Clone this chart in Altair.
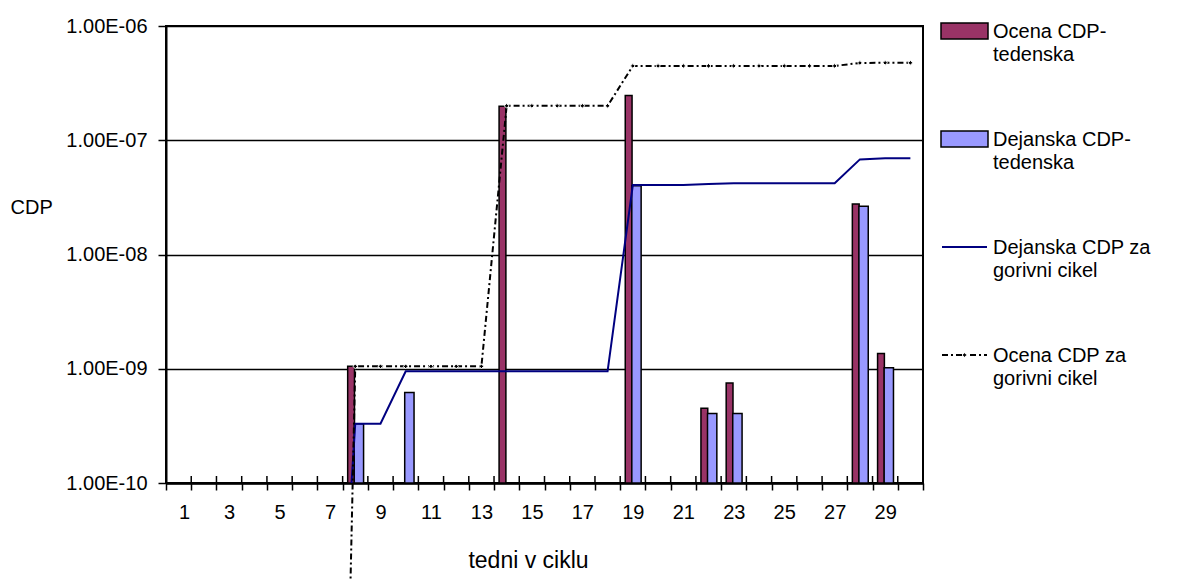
import altair as alt
import pandas as pd

# Weekly CDP estimates per week of the fuel cycle (None = no bar that week)
WEEKS = list(range(1, 31))
OCENA_TEDENSKA = [None, None, None, None, None, None, None, 1.05e-9,
                  None, None, None, None, None, 1.98e-7, None, None, None, None,
                  2.47e-7, None, None, 4.5e-10, 7.5e-10, None, None, None, None,
                  2.77e-8, 1.36e-9, None]
DEJANSKA_TEDENSKA = [None, None, None, None, None, None, None, 3.3e-10,
                     None, 6.2e-10, None, None, None, None, None, None, None, None,
                     4.0e-8, None, None, 4.05e-10, 4.05e-10, None, None, None, None,
                     2.64e-8, 1.02e-9, None]

# Cumulative CDP for the fuel cycle (from week 7 on)
LINE_WEEKS = list(range(7, 31))
DEJANSKA_CIKEL = [1e-13, 3.3e-10, 3.3e-10, 9.5e-10, 9.5e-10, 9.5e-10, 9.5e-10,
                  9.5e-10, 9.5e-10, 9.5e-10, 9.5e-10, 9.5e-10, 4.05e-8, 4.05e-8,
                  4.05e-8, 4.15e-8, 4.2e-8, 4.2e-8, 4.2e-8, 4.2e-8, 4.2e-8,
                  6.8e-8, 6.95e-8, 6.95e-8]
OCENA_CIKEL = [1e-19, 1.05e-9, 1.05e-9, 1.05e-9, 1.05e-9, 1.05e-9, 1.05e-9,
               2.0e-7, 2.0e-7, 2.0e-7, 2.0e-7, 2.0e-7, 4.47e-7, 4.47e-7,
               4.47e-7, 4.47e-7, 4.47e-7, 4.47e-7, 4.47e-7, 4.47e-7, 4.47e-7,
               4.75e-7, 4.76e-7, 4.76e-7]

Y_TICKS = [1e-10, 1e-9, 1e-8, 1e-7, 1e-6]
LEGEND_LABELS = ["Ocena CDP-\ntedenska", "Dejanska CDP-\ntedenska",
                 "Dejanska CDP za\ngorivni cikel", "Ocena CDP za\ngorivni cikel"]

MAROON = "#993366"
LILAC = "#9999FF"
NAVY = "#000080"
FONT = "Liberation Sans"
W, H = 757, 457
FS = 20

BOUNDS = [w - 0.5 for w in WEEKS] + [WEEKS[-1] + 0.5]

xscale = alt.Scale(domain=[BOUNDS[0], BOUNDS[-1]], nice=False, zero=False)
yscale = alt.Scale(type="log", domain=[Y_TICKS[0], Y_TICKS[-1]], nice=False)

xaxis = alt.Axis(
    values=BOUNDS,
    labelExpr="((datum.value + 0.5) % 2 == 1 && datum.value < 29) ? format(datum.value + 0.5, 'd') : ''",
    labelOffset=W / len(WEEKS) / 2, labelFont=FONT, labelFontSize=FS, labelColor="black",
    labelPadding=12, tickSize=7, tickWidth=1.5, tickColor="black",
    domainColor="black", domainWidth=2.5, grid=False,
    title="tedni v ciklu", titleFont=FONT, titleFontSize=23, titleFontWeight="normal",
    titleColor="black", titleX=362, titleY=84, titleBaseline="alphabetic",
)
yaxis = alt.Axis(
    values=Y_TICKS,
    labelExpr="'1.00E-' + (round(-log(datum.value)/LN10) < 10 ? '0' : '') + round(-log(datum.value)/LN10)",
    labelFont=FONT, labelFontSize=FS, labelColor="black", labelPadding=11,
    tickSize=8, tickWidth=1.5, tickColor="black",
    domainColor="black", domainWidth=2,
    grid=True, gridColor="black", gridWidth=1.5,
    title="CDP", titleAngle=0, titleAlign="left", titleBaseline="middle",
    titleX=-156, titleY=181, titleFont=FONT, titleFontSize=FS,
    titleFontWeight="normal", titleColor="black",
)


def X(field):
    return alt.X(field, scale=xscale, axis=xaxis, title="tedni v ciklu")


def Y(field):
    return alt.Y(field, scale=yscale, axis=yaxis, title="CDP")


bars = pd.DataFrame({"week": WEEKS, "ocena": OCENA_TEDENSKA, "dejanska": DEJANSKA_TEDENSKA})
ocena_bars = bars.dropna(subset=["ocena"])[["week", "ocena"]].rename(columns={"ocena": "v"})
dejanska_bars = bars.dropna(subset=["dejanska"])[["week", "dejanska"]].rename(columns={"dejanska": "v"})
lines = pd.DataFrame({"week": LINE_WEEKS, "dej": DEJANSKA_CIKEL, "oc": OCENA_CIKEL})

base_y = Y_TICKS[0]

# Maroon bars sit left of the week centre, lilac bars right of it
maroon = alt.Chart(ocena_bars).transform_calculate(
    x0="datum.week - 0.30", x1="datum.week - 0.03", base=str(base_y)
).mark_rect(fill=MAROON, stroke="black", strokeWidth=1.5).encode(
    x=X("x0:Q"), x2="x1:Q", y=Y("v:Q"), y2="base:Q",
)
lilac = alt.Chart(dejanska_bars).transform_calculate(
    x0="datum.week - 0.04", x1="datum.week + 0.33", base=str(base_y)
).mark_rect(fill=LILAC, stroke="black", strokeWidth=1.5).encode(
    x=X("x0:Q"), x2="x1:Q", y=Y("v:Q"), y2="base:Q",
)

dej_line = alt.Chart(lines).mark_line(color=NAVY, strokeWidth=2, clip=True).encode(
    x=X("week:Q"), y=Y("dej:Q"),
)
oc_line = alt.Chart(lines).mark_line(
    color="black", strokeWidth=2, strokeDash=[6, 3, 2, 3], clip=False
).encode(
    x=X("week:Q"), y=Y("oc:Q"),
)
oc_points = alt.Chart(lines).transform_filter(f"datum.oc >= {base_y}").mark_point(
    shape="diamond", filled=True, fill="black", stroke="white", strokeWidth=1, size=22, opacity=1
).encode(
    x=X("week:Q"), y=Y("oc:Q"),
)

# Inner halves of the category ticks on the x axis
inner_ticks = alt.Chart(pd.DataFrame({"b": BOUNDS})).mark_rule(
    color="black", strokeWidth=1.5
).encode(
    x=X("b:Q"),
    y=alt.value(H),
    y2=alt.value(H - 7),
)

# Legend on the right
one = pd.DataFrame({"k": [0]})
LX0, LX1, LTX = 775, 822, 827
STEP = 108
legend_layers = []
for i, (label, kind) in enumerate(zip(LEGEND_LABELS, ["maroon", "lilac", "navy", "dash"])):
    yc = 5 + i * STEP
    if kind in ("maroon", "lilac"):
        legend_layers.append(
            alt.Chart(one).mark_rect(fill=MAROON if kind == "maroon" else LILAC,
                                     stroke="black", strokeWidth=1.5).encode(
                x=alt.value(LX0), x2=alt.value(LX1),
                y=alt.value(yc - 8), y2=alt.value(yc + 8))
        )
    elif kind == "navy":
        legend_layers.append(
            alt.Chart(one).mark_rule(color=NAVY, strokeWidth=2).encode(
                x=alt.value(LX0 + 1), x2=alt.value(LX1 - 1), y=alt.value(yc))
        )
    else:
        legend_layers.append(
            alt.Chart(one).mark_rule(color="black", strokeWidth=2, strokeDash=[6, 3, 2, 3]).encode(
                x=alt.value(LX0 + 1), x2=alt.value(LX1 - 1), y=alt.value(yc))
        )
        legend_layers.append(
            alt.Chart(one).mark_point(shape="diamond", filled=True, fill="black",
                                      stroke="white", strokeWidth=1, size=22, opacity=1).encode(
                x=alt.value((LX0 + LX1) / 2), y=alt.value(yc))
        )
    legend_layers.append(
        alt.Chart(pd.DataFrame({"t": [label]})).mark_text(
            align="left", baseline="alphabetic", font=FONT, fontSize=FS,
            lineBreak="\n", lineHeight=23, color="black"
        ).encode(x=alt.value(LTX), y=alt.value(yc + 7), text="t:N")
    )

chart = alt.layer(
    maroon, lilac, dej_line, oc_line, oc_points, inner_ticks, *legend_layers
).properties(
    width=W, height=H,
    autosize=alt.AutoSizeParams(type="none"),
    padding={"left": 166, "top": 26, "right": 255, "bottom": 98},
    background="white",
).configure_view(stroke="black", strokeWidth=2)

chart.save("out.html", embed_options={"renderer": "svg", "actions": False})
